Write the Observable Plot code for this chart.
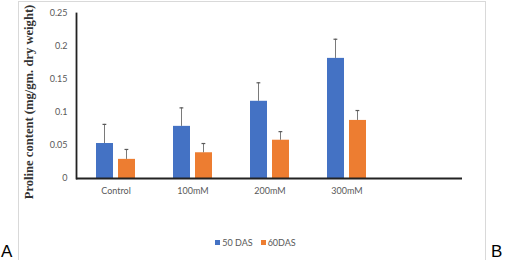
<!DOCTYPE html>
<html><head><meta charset="utf-8">
<script src="https://cdn.jsdelivr.net/npm/d3@7"></script>
<script src="https://cdn.jsdelivr.net/npm/@observablehq/plot@0.6"></script>
<style>
body{margin:0;background:#fff;}
#wrap{position:relative;width:505px;height:260px;overflow:hidden;font-family:Lato,"Open Sans",sans-serif;}
#border{position:absolute;left:18px;top:1px;width:466px;height:300px;border:1px solid #d9d9d9;}
#legend{position:absolute;top:237px;left:0;width:505px;text-align:center;font-size:9px;color:#595959;padding-left:6px;box-sizing:border-box;}
#legend span.sw{display:inline-block;width:5px;height:5px;margin-right:2px;vertical-align:1px;}
#legend span.it{margin:0 4px;}
#ylab{position:absolute;left:29px;top:102px;transform:translate(-50%,-50%) rotate(-90deg);white-space:nowrap;font-family:"Liberation Serif","Times New Roman",serif;font-weight:bold;font-size:12.6px;color:#333;line-height:1;}
.corner{position:absolute;top:239px;font-family:"Liberation Sans",Arial,sans-serif;font-size:17px;line-height:1;color:#000;}
</style></head>
<body><div id="wrap"><div id="border"></div><div id="chart"></div><div id="ylab"></div><div id="legend"></div>
<div class="corner" style="left:1px;top:243px">A</div><div class="corner" style="left:491px;top:243px">B</div></div>
<script>
const categories = ["Control","100mM","200mM","300mM",""];
const series = ["50 DAS","60DAS"];
const colors = ["#4472C4","#ED7D31"];
const das50 = [0.053,0.079,0.117,0.182];
const das50Err = [0.029,0.028,0.028,0.029];
const das60 = [0.029,0.039,0.058,0.088];
const das60Err = [0.015,0.014,0.013,0.015];
const yTicks = [0,0.05,0.1,0.15,0.2,0.25];
const yLabel = "Proline content (mg/gm. dry weight)";

const d50 = das50.map((v,i)=>({cat:categories[i],v,e:das50Err[i]}));
const d60 = das60.map((v,i)=>({cat:categories[i],v,e:das60Err[i]}));

const errStroke = "#595959";
const chart = Plot.plot({
  width:505, height:260,
  marginLeft:76, marginRight:43, marginTop:13, marginBottom:82,
  x:{domain:categories, padding:0, axis:null},
  y:{domain:[0,0.25], axis:null},
  marks:[
    Plot.barY(d50,{x:"cat",y:"v",fill:colors[0],insetLeft:19,insetRight:41}),
    Plot.barY(d60,{x:"cat",y:"v",fill:colors[1],insetLeft:41,insetRight:19}),
    Plot.rectY(d50,{x:"cat",y1:"v",y2:d=>d.v+d.e,fill:errStroke,insetLeft:27,insetRight:49.2}),
    Plot.rectY(d60,{x:"cat",y1:"v",y2:d=>d.v+d.e,fill:errStroke,insetLeft:49,insetRight:27.2}),
    Plot.tickY(d50,{x:"cat",y:d=>d.v+d.e,stroke:errStroke,strokeWidth:1.2,insetLeft:25.5,insetRight:47.7}),
    Plot.tickY(d60,{x:"cat",y:d=>d.v+d.e,stroke:errStroke,strokeWidth:1.2,insetLeft:47.5,insetRight:25.7}),
    Plot.axisX({ticks:categories.slice(0,4),tickSize:0,tickPadding:9,fontSize:9,fontFamily:"Lato",color:"#595959",label:null}),
    Plot.axisY({ticks:yTicks,tickFormat:d=>String(d),tickSize:0,tickPadding:9,fontSize:9,fontFamily:"Lato",color:"#595959",label:null}),
    Plot.ruleY([0],{stroke:"#222",strokeWidth:1.8}),
    Plot.frame({anchor:"left",stroke:"#222",strokeWidth:1.8})
  ]
});
document.getElementById("chart").appendChild(chart);
document.getElementById("ylab").textContent = yLabel;

const lg = document.getElementById("legend");
series.forEach((s,i)=>{
  const it = document.createElement("span"); it.className="it";
  const sw = document.createElement("span"); sw.className="sw"; sw.style.background=colors[i];
  it.appendChild(sw); it.appendChild(document.createTextNode(s));
  lg.appendChild(it);
});
</script></body></html>
